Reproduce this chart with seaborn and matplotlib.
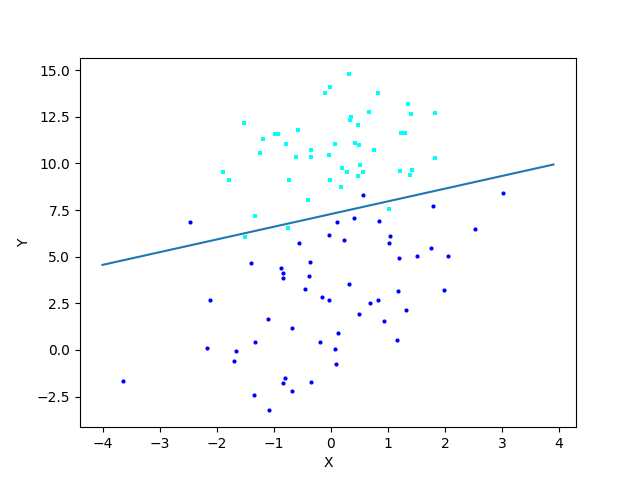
import matplotlib
matplotlib.use("Agg")
import matplotlib.pyplot as plt
import seaborn as sns
import pandas as pd

# Cyan class points
cyan_x = [-1.526, -1.895, -1.789, -1.509, 0.316, -0.023, -0.105, 0.825, 1.346, 0.667,
          0.351, 0.333, 0.474, -0.579, -0.970, -0.923, 1.228, 1.298, -1.193, -0.789,
          0.070, 0.421, 0.491, -0.351, 0.754, -1.246, -0.035, -0.614, -0.351, 0.509,
          0.193, 0.281, 0.561, 0.474, 1.211, 1.386, 1.404, 1.825, 1.825, 1.421,
          -0.737, -0.018, 0.175, -0.404, 1.018, -1.333, -0.754]
cyan_y = [12.16, 9.54, 9.11, 6.05, 14.77, 14.08, 13.77, 13.77, 13.18, 12.77,
          12.48, 12.34, 12.05, 11.79, 11.57, 11.57, 11.62, 11.62, 11.30, 11.03,
          11.03, 11.09, 10.98, 10.71, 10.71, 10.55, 10.44, 10.34, 10.34, 9.91,
          9.75, 9.53, 9.53, 9.32, 9.59, 9.37, 12.64, 12.70, 10.28, 9.64,
          9.10, 9.10, 8.73, 8.03, 7.55, 7.17, 6.53]

# Blue class points
blue_x = [-2.474, 0.561, 0.105, 0.404, 0.842, -0.035, 0.228, 1.035, 1.018, -0.561,
          3.018, 1.789, 2.526, 1.754, -2.123, -2.175, -1.667, -1.702, -3.649, -1.404,
          1.193, -0.865, -0.842, -0.842, -0.368, -0.386, 0.316, -0.456, -0.158, -0.035,
          1.175, 0.679, 0.825, 1.316, 0.491, 0.930, -1.105, -0.684, 0.123, -1.333,
          -0.193, 0.077, 1.158, 0.088, -0.807, -0.842, -0.351, -0.684, -1.351, -1.088,
          1.509, 2.053, 1.982]
blue_y = [6.85, 8.30, 6.85, 7.06, 6.90, 6.15, 5.87, 6.10, 5.72, 5.72,
          8.40, 7.71, 6.47, 5.45, 2.66, 0.08, -0.08, -0.61, -1.69, 4.65,
          4.92, 4.38, 4.11, 3.84, 4.70, 3.95, 3.52, 3.25, 2.82, 2.66,
          3.14, 2.50, 2.66, 2.12, 1.91, 1.53, 1.64, 1.16, 0.89, 0.41,
          0.41, 0.03, 0.51, -0.77, -1.53, -1.79, -1.74, -2.22, -2.44, -3.24,
          5.02, 5.02, 3.20]

# Separating line endpoints
line_x = [-4.0, 3.9]
line_y = [4.56, 9.94]

fig, ax = plt.subplots(figsize=(6.4, 4.8), dpi=100)

sns.scatterplot(x=blue_x, y=blue_y, ax=ax, color="blue", marker="o", s=9,
                linewidth=0)
sns.scatterplot(x=cyan_x, y=cyan_y, ax=ax, color="cyan", marker="s", s=6,
                linewidth=0)
sns.lineplot(x=line_x, y=line_y, ax=ax, color="#1f77b4", linewidth=1.5)

ax.set_xlabel("X")
ax.set_ylabel("Y")

fig.savefig("out.png", dpi=100)
